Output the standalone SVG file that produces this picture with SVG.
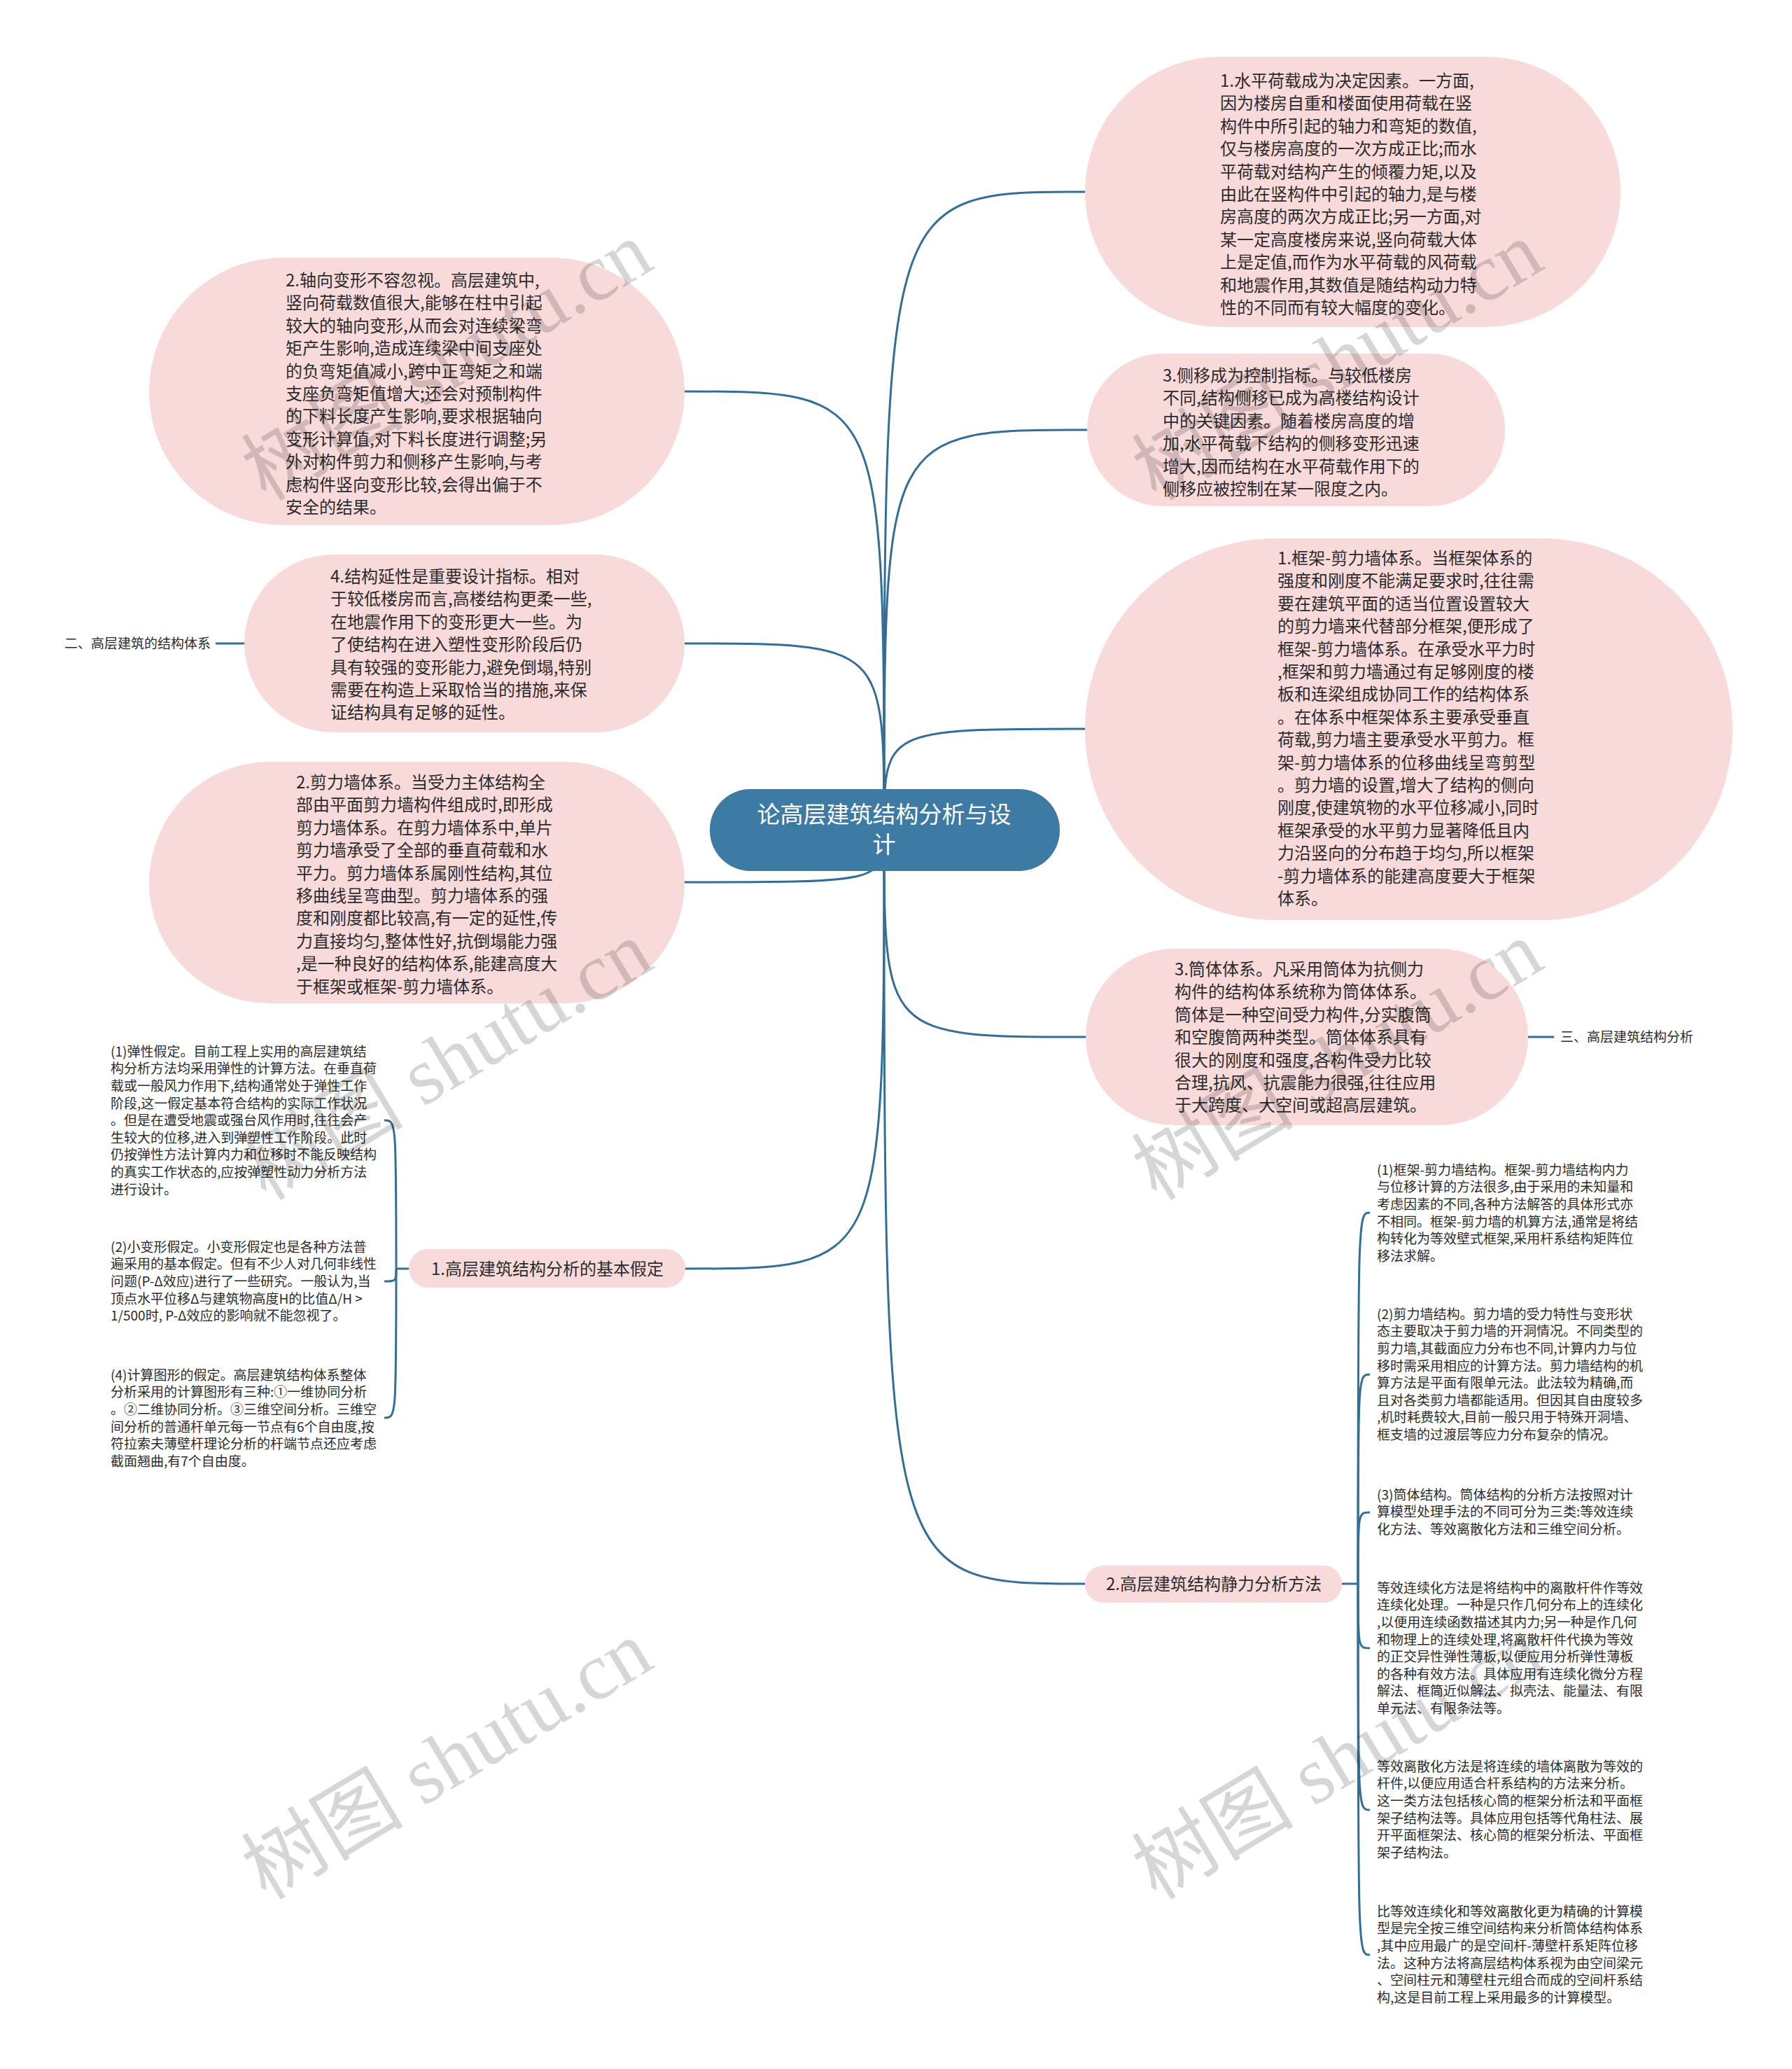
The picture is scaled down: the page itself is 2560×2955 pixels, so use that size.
<svg xmlns="http://www.w3.org/2000/svg" width="2560" height="2955" viewBox="0 0 2560 2955">
<style>
.node{fill:#f9dada}
.center{fill:#3e7ba4}
.t{font-family:"Noto Sans CJK SC","Microsoft YaHei",sans-serif;font-size:24px;fill:#2b2b2b}
.s{font-family:"Noto Sans CJK SC","Microsoft YaHei",sans-serif;font-size:19px;fill:#2b2b2b}
.ct{font-family:"Noto Sans CJK SC","Microsoft YaHei",sans-serif;font-size:33px;fill:#ffffff}
.edge{fill:none;stroke:#336e96;stroke-width:3}
.wm{font-family:"Liberation Serif","Noto Sans CJK SC",serif;font-size:116px;fill:#000;fill-opacity:0.16}
</style>
<rect width="2560" height="2955" fill="#ffffff"/>
<g id="connectors">
<path class="edge" d="M1263,1186 C1263,274 1263,274 1550,274"/>
<path class="edge" d="M1263,1186 C1263,614 1263,614 1553,614"/>
<path class="edge" d="M1263,1186 C1263,1041 1263,1041 1550,1041"/>
<path class="edge" d="M1263,1186 C1263,1481 1263,1481 1551,1481"/>
<path class="edge" d="M1263,1186 C1263,2262 1263,2262 1550,2262"/>
<path class="edge" d="M1263,1186 C1263,559 1263,559 978,559"/>
<path class="edge" d="M1263,1186 C1263,919 1263,919 978,919"/>
<path class="edge" d="M1263,1186 C1263,1260 1263,1260 978,1260"/>
<path class="edge" d="M1263,1186 C1263,1812 1263,1812 979,1812"/>
<path class="edge" d="M349,919 H308"/>
<path class="edge" d="M2183,1481 H2220"/>
<path class="edge" d="M584,1812 H566"/>
<path class="edge" d="M566,1812 C566,1600 566,1600 549,1600"/>
<path class="edge" d="M566,1812 C566,1830 566,1830 549,1830"/>
<path class="edge" d="M566,1812 C566,2025 566,2025 549,2025"/>
<path class="edge" d="M1917,2262 H1940"/>
<path class="edge" d="M1940,2262 C1940,1732 1940,1732 1957,1732"/>
<path class="edge" d="M1940,2262 C1940,1963 1940,1963 1957,1963"/>
<path class="edge" d="M1940,2262 C1940,2160 1940,2160 1957,2160"/>
<path class="edge" d="M1940,2262 C1940,2354 1940,2354 1957,2354"/>
<path class="edge" d="M1940,2262 C1940,2585 1940,2585 1957,2585"/>
<path class="edge" d="M1940,2262 C1940,2792 1940,2792 1957,2792"/>
</g>
<g id="root">
<rect class="center" x="1014" y="1127" width="500" height="117" rx="58"/>
<text class="ct" text-anchor="middle"><tspan x="1263" y="1175">论高层建筑结构分析与设</tspan><tspan x="1263" y="1218">计</tspan></text>
</g>
<g id="n-r1">
<rect class="node" x="1550" y="81" width="765" height="386" rx="193"/>
<text class="t"><tspan x="1743" y="124">1.水平荷载成为决定因素。一方面,</tspan><tspan x="1743" dy="32.4">因为楼房自重和楼面使用荷载在竖</tspan><tspan x="1743" dy="32.4">构件中所引起的轴力和弯矩的数值,</tspan><tspan x="1743" dy="32.4">仅与楼房高度的一次方成正比;而水</tspan><tspan x="1743" dy="32.4">平荷载对结构产生的倾覆力矩,以及</tspan><tspan x="1743" dy="32.4">由此在竖构件中引起的轴力,是与楼</tspan><tspan x="1743" dy="32.4">房高度的两次方成正比;另一方面,对</tspan><tspan x="1743" dy="32.4">某一定高度楼房来说,竖向荷载大体</tspan><tspan x="1743" dy="32.4">上是定值,而作为水平荷载的风荷载</tspan><tspan x="1743" dy="32.4">和地震作用,其数值是随结构动力特</tspan><tspan x="1743" dy="32.4">性的不同而有较大幅度的变化。</tspan></text>
</g>
<g id="n-r2">
<rect class="node" x="1553" y="505" width="597" height="218" rx="109"/>
<text class="t"><tspan x="1661" y="545">3.侧移成为控制指标。与较低楼房</tspan><tspan x="1661" dy="32.4">不同,结构侧移已成为高楼结构设计</tspan><tspan x="1661" dy="32.4">中的关键因素。随着楼房高度的增</tspan><tspan x="1661" dy="32.4">加,水平荷载下结构的侧移变形迅速</tspan><tspan x="1661" dy="32.4">增大,因而结构在水平荷载作用下的</tspan><tspan x="1661" dy="32.4">侧移应被控制在某一限度之内。</tspan></text>
</g>
<g id="n-r3">
<rect class="node" x="1550" y="769" width="925" height="545" rx="272"/>
<text class="t"><tspan x="1825" y="806">1.框架-剪力墙体系。当框架体系的</tspan><tspan x="1825" dy="32.4">强度和刚度不能满足要求时,往往需</tspan><tspan x="1825" dy="32.4">要在建筑平面的适当位置设置较大</tspan><tspan x="1825" dy="32.4">的剪力墙来代替部分框架,便形成了</tspan><tspan x="1825" dy="32.4">框架-剪力墙体系。在承受水平力时</tspan><tspan x="1825" dy="32.4">,框架和剪力墙通过有足够刚度的楼</tspan><tspan x="1825" dy="32.4">板和连梁组成协同工作的结构体系</tspan><tspan x="1825" dy="32.4">。在体系中框架体系主要承受垂直</tspan><tspan x="1825" dy="32.4">荷载,剪力墙主要承受水平剪力。框</tspan><tspan x="1825" dy="32.4">架-剪力墙体系的位移曲线呈弯剪型</tspan><tspan x="1825" dy="32.4">。剪力墙的设置,增大了结构的侧向</tspan><tspan x="1825" dy="32.4">刚度,使建筑物的水平位移减小,同时</tspan><tspan x="1825" dy="32.4">框架承受的水平剪力显著降低且内</tspan><tspan x="1825" dy="32.4">力沿竖向的分布趋于均匀,所以框架</tspan><tspan x="1825" dy="32.4">-剪力墙体系的能建高度要大于框架</tspan><tspan x="1825" dy="32.4">体系。</tspan></text>
</g>
<g id="n-r4">
<rect class="node" x="1551" y="1355" width="632" height="252" rx="126"/>
<text class="t"><tspan x="1678" y="1393">3.筒体体系。凡采用筒体为抗侧力</tspan><tspan x="1678" dy="32.4">构件的结构体系统称为筒体体系。</tspan><tspan x="1678" dy="32.4">筒体是一种空间受力构件,分实腹筒</tspan><tspan x="1678" dy="32.4">和空腹筒两种类型。筒体体系具有</tspan><tspan x="1678" dy="32.4">很大的刚度和强度,各构件受力比较</tspan><tspan x="1678" dy="32.4">合理,抗风、抗震能力很强,往往应用</tspan><tspan x="1678" dy="32.4">于大跨度、大空间或超高层建筑。</tspan></text>
</g>
<g id="n-l1">
<rect class="node" x="213" y="368" width="765" height="382" rx="191"/>
<text class="t"><tspan x="408" y="409">2.轴向变形不容忽视。高层建筑中,</tspan><tspan x="408" dy="32.4">竖向荷载数值很大,能够在柱中引起</tspan><tspan x="408" dy="32.4">较大的轴向变形,从而会对连续梁弯</tspan><tspan x="408" dy="32.4">矩产生影响,造成连续梁中间支座处</tspan><tspan x="408" dy="32.4">的负弯矩值减小,跨中正弯矩之和端</tspan><tspan x="408" dy="32.4">支座负弯矩值增大;还会对预制构件</tspan><tspan x="408" dy="32.4">的下料长度产生影响,要求根据轴向</tspan><tspan x="408" dy="32.4">变形计算值,对下料长度进行调整;另</tspan><tspan x="408" dy="32.4">外对构件剪力和侧移产生影响,与考</tspan><tspan x="408" dy="32.4">虑构件竖向变形比较,会得出偏于不</tspan><tspan x="408" dy="32.4">安全的结果。</tspan></text>
</g>
<g id="n-l2">
<rect class="node" x="349" y="792" width="629" height="254" rx="127"/>
<text class="t"><tspan x="472" y="832">4.结构延性是重要设计指标。相对</tspan><tspan x="472" dy="32.4">于较低楼房而言,高楼结构更柔一些,</tspan><tspan x="472" dy="32.4">在地震作用下的变形更大一些。为</tspan><tspan x="472" dy="32.4">了使结构在进入塑性变形阶段后仍</tspan><tspan x="472" dy="32.4">具有较强的变形能力,避免倒塌,特别</tspan><tspan x="472" dy="32.4">需要在构造上采取恰当的措施,来保</tspan><tspan x="472" dy="32.4">证结构具有足够的延性。</tspan></text>
</g>
<g id="n-l2-label">
<text class="s" x="92" y="926">二、高层建筑的结构体系</text>
</g>
<g id="n-l3">
<rect class="node" x="213" y="1088" width="765" height="345" rx="172"/>
<text class="t"><tspan x="423" y="1126">2.剪力墙体系。当受力主体结构全</tspan><tspan x="423" dy="32.4">部由平面剪力墙构件组成时,即形成</tspan><tspan x="423" dy="32.4">剪力墙体系。在剪力墙体系中,单片</tspan><tspan x="423" dy="32.4">剪力墙承受了全部的垂直荷载和水</tspan><tspan x="423" dy="32.4">平力。剪力墙体系属刚性结构,其位</tspan><tspan x="423" dy="32.4">移曲线呈弯曲型。剪力墙体系的强</tspan><tspan x="423" dy="32.4">度和刚度都比较高,有一定的延性,传</tspan><tspan x="423" dy="32.4">力直接均匀,整体性好,抗倒塌能力强</tspan><tspan x="423" dy="32.4">,是一种良好的结构体系,能建高度大</tspan><tspan x="423" dy="32.4">于框架或框架-剪力墙体系。</tspan></text>
</g>
<g id="n-r4-label">
<text class="s" x="2229" y="1488">三、高层建筑结构分析</text>
</g>
<g id="n-b1">
<rect class="node" x="584" y="1784" width="395" height="55" rx="27"/>
<text class="t" x="782" y="1821" text-anchor="middle">1.高层建筑结构分析的基本假定</text>
</g>
<g id="n-t1">
<text class="s"><tspan x="158" y="1508.8">(1)弹性假定。目前工程上实用的高层建筑结</tspan><tspan x="158" dy="24.6">构分析方法均采用弹性的计算方法。在垂直荷</tspan><tspan x="158" dy="24.6">载或一般风力作用下,结构通常处于弹性工作</tspan><tspan x="158" dy="24.6">阶段,这一假定基本符合结构的实际工作状况</tspan><tspan x="158" dy="24.6">。但是在遭受地震或强台风作用时,往往会产</tspan><tspan x="158" dy="24.6">生较大的位移,进入到弹塑性工作阶段。此时</tspan><tspan x="158" dy="24.6">仍按弹性方法计算内力和位移时不能反映结构</tspan><tspan x="158" dy="24.6">的真实工作状态的,应按弹塑性动力分析方法</tspan><tspan x="158" dy="24.6">进行设计。</tspan></text>
</g>
<g id="n-t2">
<text class="s"><tspan x="158" y="1787.8">(2)小变形假定。小变形假定也是各种方法普</tspan><tspan x="158" dy="24.6">遍采用的基本假定。但有不少人对几何非线性</tspan><tspan x="158" dy="24.6">问题(P-Δ效应)进行了一些研究。一般认为,当</tspan><tspan x="158" dy="24.6">顶点水平位移Δ与建筑物高度H的比值Δ/H &gt;</tspan><tspan x="158" dy="24.6">1/500时, P-Δ效应的影响就不能忽视了。</tspan></text>
</g>
<g id="n-t3">
<text class="s"><tspan x="158" y="1970.8">(4)计算图形的假定。高层建筑结构体系整体</tspan><tspan x="158" dy="24.6">分析采用的计算图形有三种:①一维协同分析</tspan><tspan x="158" dy="24.6">。②二维协同分析。③三维空间分析。三维空</tspan><tspan x="158" dy="24.6">间分析的普通杆单元每一节点有6个自由度,按</tspan><tspan x="158" dy="24.6">符拉索夫薄壁杆理论分析的杆端节点还应考虑</tspan><tspan x="158" dy="24.6">截面翘曲,有7个自由度。</tspan></text>
</g>
<g id="n-b2">
<rect class="node" x="1550" y="2236" width="367" height="53" rx="26"/>
<text class="t" x="1734" y="2271" text-anchor="middle">2.高层建筑结构静力分析方法</text>
</g>
<g id="n-s1">
<text class="s"><tspan x="1967" y="1677.8">(1)框架-剪力墙结构。框架-剪力墙结构内力</tspan><tspan x="1967" dy="24.6">与位移计算的方法很多,由于采用的未知量和</tspan><tspan x="1967" dy="24.6">考虑因素的不同,各种方法解答的具体形式亦</tspan><tspan x="1967" dy="24.6">不相同。框架-剪力墙的机算方法,通常是将结</tspan><tspan x="1967" dy="24.6">构转化为等效壁式框架,采用杆系结构矩阵位</tspan><tspan x="1967" dy="24.6">移法求解。</tspan></text>
</g>
<g id="n-s2">
<text class="s"><tspan x="1967" y="1883.8">(2)剪力墙结构。剪力墙的受力特性与变形状</tspan><tspan x="1967" dy="24.6">态主要取决于剪力墙的开洞情况。不同类型的</tspan><tspan x="1967" dy="24.6">剪力墙,其截面应力分布也不同,计算内力与位</tspan><tspan x="1967" dy="24.6">移时需采用相应的计算方法。剪力墙结构的机</tspan><tspan x="1967" dy="24.6">算方法是平面有限单元法。此法较为精确,而</tspan><tspan x="1967" dy="24.6">且对各类剪力墙都能适用。但因其自由度较多</tspan><tspan x="1967" dy="24.6">,机时耗费较大,目前一般只用于特殊开洞墙、</tspan><tspan x="1967" dy="24.6">框支墙的过渡层等应力分布复杂的情况。</tspan></text>
</g>
<g id="n-s3">
<text class="s"><tspan x="1967" y="2141.8">(3)筒体结构。筒体结构的分析方法按照对计</tspan><tspan x="1967" dy="24.6">算模型处理手法的不同可分为三类:等效连续</tspan><tspan x="1967" dy="24.6">化方法、等效离散化方法和三维空间分析。</tspan></text>
</g>
<g id="n-s4">
<text class="s"><tspan x="1967" y="2274.8">等效连续化方法是将结构中的离散杆件作等效</tspan><tspan x="1967" dy="24.6">连续化处理。一种是只作几何分布上的连续化</tspan><tspan x="1967" dy="24.6">,以便用连续函数描述其内力;另一种是作几何</tspan><tspan x="1967" dy="24.6">和物理上的连续处理,将离散杆件代换为等效</tspan><tspan x="1967" dy="24.6">的正交异性弹性薄板,以便应用分析弹性薄板</tspan><tspan x="1967" dy="24.6">的各种有效方法。具体应用有连续化微分方程</tspan><tspan x="1967" dy="24.6">解法、框筒近似解法、拟壳法、能量法、有限</tspan><tspan x="1967" dy="24.6">单元法、有限条法等。</tspan></text>
</g>
<g id="n-s5">
<text class="s"><tspan x="1967" y="2529.8">等效离散化方法是将连续的墙体离散为等效的</tspan><tspan x="1967" dy="24.6">杆件,以便应用适合杆系结构的方法来分析。</tspan><tspan x="1967" dy="24.6">这一类方法包括核心筒的框架分析法和平面框</tspan><tspan x="1967" dy="24.6">架子结构法等。具体应用包括等代角柱法、展</tspan><tspan x="1967" dy="24.6">开平面框架法、核心筒的框架分析法、平面框</tspan><tspan x="1967" dy="24.6">架子结构法。</tspan></text>
</g>
<g id="n-s6">
<text class="s"><tspan x="1967" y="2736.8">比等效连续化和等效离散化更为精确的计算模</tspan><tspan x="1967" dy="24.6">型是完全按三维空间结构来分析筒体结构体系</tspan><tspan x="1967" dy="24.6">,其中应用最广的是空间杆-薄壁杆系矩阵位移</tspan><tspan x="1967" dy="24.6">法。这种方法将高层结构体系视为由空间梁元</tspan><tspan x="1967" dy="24.6">、空间柱元和薄壁柱元组合而成的空间杆系结</tspan><tspan x="1967" dy="24.6">构,这是目前工程上采用最多的计算模型。</tspan></text>
</g>
<g id="watermarks">
<text class="wm" x="380" y="717" transform="rotate(-31 380 717)">树图 shutu.cn</text>
<text class="wm" x="1652" y="717" transform="rotate(-31 1652 717)">树图 shutu.cn</text>
<text class="wm" x="380" y="1716" transform="rotate(-31 380 1716)">树图 shutu.cn</text>
<text class="wm" x="1652" y="1716" transform="rotate(-31 1652 1716)">树图 shutu.cn</text>
<text class="wm" x="380" y="2715" transform="rotate(-31 380 2715)">树图 shutu.cn</text>
<text class="wm" x="1652" y="2715" transform="rotate(-31 1652 2715)">树图 shutu.cn</text>
</g>
</svg>
